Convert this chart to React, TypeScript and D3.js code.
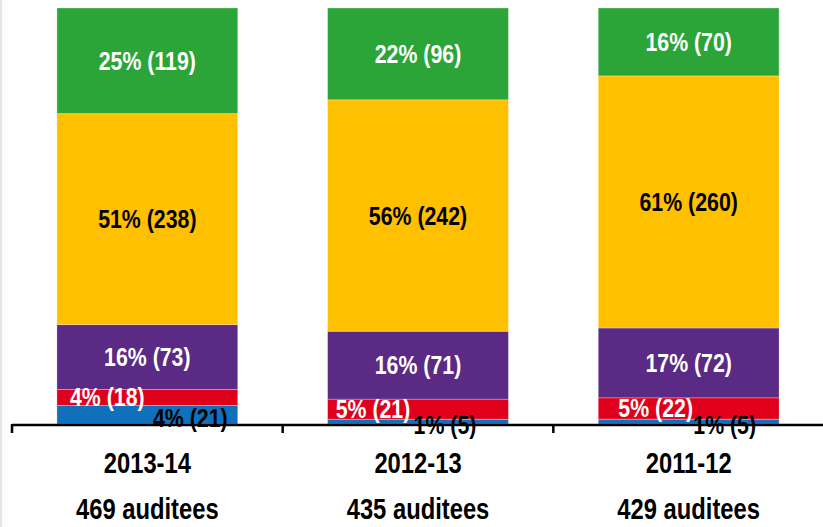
import * as d3 from "d3";

const WIDTH = 823;
const HEIGHT = 527;

// categories (years) and the audit population for each
const years = ["2013-14", "2012-13", "2011-12"];
const auditees = [469, 435, 429];

// stacked from the bottom up
const seriesKeys = ["blue", "red", "purple", "yellow", "green"];
const blueCounts = [21, 5, 5];
const redCounts = [18, 21, 22];
const purpleCounts = [73, 71, 72];
const yellowCounts = [238, 242, 260];
const greenCounts = [119, 96, 70];

const COLORS: Record<string, string> = {
  blue: "#1170bb",
  red: "#e1001b",
  purple: "#5a2a84",
  yellow: "#ffc000",
  green: "#2ca538",
};
const LABEL_COLORS: Record<string, string> = {
  blue: "#000",
  red: "#fff",
  purple: "#fff",
  yellow: "#000",
  green: "#fff",
};
// labels of the thin segments were dragged aside by hand in the original
const LABEL_NUDGE: Record<string, number[]> = {
  blue: [43, 27, 36],
  red: [-40, -45, -33],
};
const LABEL_DROP: Record<string, number> = { blue: 3 };

// no narrow font installed, so squeeze Liberation Sans horizontally
const FONT = "'Liberation Sans', Arial, sans-serif";
const SQUEEZE = 0.82;

const AXIS_Y = 424;

const NarrowText = ({ x, y, size, fill, children }: any) => (
  <text
    transform={`translate(${x},${y}) scale(${SQUEEZE},1)`}
    fontFamily={FONT}
    fontWeight="bold"
    fontSize={size}
    textAnchor="middle"
    fill={fill}
  >
    {children}
  </text>
);

export default function App() {
  const rows = years.map((year, i) => ({
    year,
    total: auditees[i],
    blue: blueCounts[i],
    red: redCounts[i],
    purple: purpleCounts[i],
    yellow: yellowCounts[i],
    green: greenCounts[i],
  }));

  const xScale = d3.scaleBand<string>()
    .domain(years)
    .range([12, 824])
    .paddingInner(0.332)
    .paddingOuter(0.166);

  const yScale = d3.scaleLinear().domain([0, 1]).range([AXIS_Y, 8]);

  // normalise each bar to 100%
  const stack = d3.stack<any>()
    .keys(seriesKeys)
    .value((d, key) => d[key] / d.total);
  const layers = stack(rows);

  const step = xScale.step();
  const tickXs = years.map((y) => (xScale(y) as number) - xScale.padding() * step / 2);

  return (
    <svg
      width={WIDTH}
      height={HEIGHT}
      style={{ position: "absolute", left: 0, top: 0, background: "#fff" }}
    >
      <line x1={1} x2={1} y1={0} y2={HEIGHT} stroke="#e6e6e6" strokeWidth={2} />

      {layers.map((layer) => (
        <g key={layer.key}>
          {layer.map((seg, i) => {
            const x = xScale(rows[i].year) as number;
            const y0 = yScale(seg[0]);
            const y1 = yScale(seg[1]);
            return (
              <rect
                key={i}
                x={x}
                y={y1}
                width={xScale.bandwidth()}
                height={y0 - y1}
                fill={COLORS[layer.key]}
                stroke="rgba(255,255,255,0.35)"
                strokeWidth={0.8}
              />
            );
          })}
        </g>
      ))}

      {/* axis */}
      <line x1={12} x2={WIDTH} y1={AXIS_Y + 1} y2={AXIS_Y + 1} stroke="#000" strokeWidth={2.5} />
      {tickXs.map((tx, i) => (
        <line key={i} x1={tx} x2={tx} y1={AXIS_Y} y2={AXIS_Y + 9} stroke="#000" strokeWidth={2.5} />
      ))}

      {/* segment labels */}
      {layers.map((layer) => (
        <g key={layer.key}>
          {layer.map((seg, i) => {
            const row = rows[i];
            const count = row[layer.key as keyof typeof row] as number;
            const pct = Math.round((count / row.total) * 100);
            const nudge = LABEL_NUDGE[layer.key] ? LABEL_NUDGE[layer.key][i] : 0;
            const cx = (xScale(row.year) as number) + xScale.bandwidth() / 2 + nudge;
            const cy = (yScale(seg[0]) + yScale(seg[1])) / 2 + (LABEL_DROP[layer.key] || 0);
            return (
              <NarrowText key={i} x={cx} y={cy + 9} size={26} fill={LABEL_COLORS[layer.key]}>
                {`${pct}% (${count})`}
              </NarrowText>
            );
          })}
        </g>
      ))}

      {/* category labels */}
      {rows.map((row) => {
        const cx = (xScale(row.year) as number) + xScale.bandwidth() / 2;
        return (
          <g key={row.year}>
            <NarrowText x={cx} y={473} size={29} fill="#000">{row.year}</NarrowText>
            <NarrowText x={cx} y={519} size={29} fill="#000">{`${row.total} auditees`}</NarrowText>
          </g>
        );
      })}
    </svg>
  );
}
